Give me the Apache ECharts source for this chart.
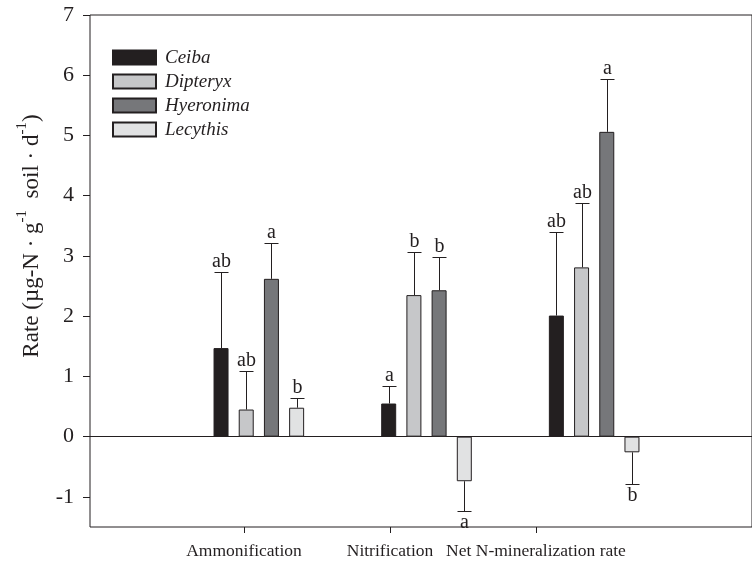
<!DOCTYPE html>
<html>
<head>
<meta charset="utf-8">
<script src="https://cdn.jsdelivr.net/npm/echarts@6/dist/echarts.min.js"></script>
<style>html,body{margin:0;padding:0;background:#fff}#c{width:752px;height:567px}</style>
</head>
<body>
<div id="c"></div>
<script>
const categories = ['Ammonification', 'Nitrification', 'Net N-mineralization rate'];
const species = ['Ceiba', 'Dipteryx', 'Hyeronima', 'Lecythis'];
const colors = ['#231f20', '#c6c7c9', '#76777a', '#e1e2e3'];

const ceibaMean = [1.47, 0.55, 2.01];
const ceibaErrEnd = [2.73, 0.84, 3.40];
const ceibaLetters = ['ab', 'a', 'ab'];

const dipteryxMean = [0.45, 2.35, 2.81];
const dipteryxErrEnd = [1.09, 3.07, 3.88];
const dipteryxLetters = ['ab', 'b', 'ab'];

const hyeronimaMean = [2.62, 2.43, 5.06];
const hyeronimaErrEnd = [3.21, 2.99, 5.94];
const hyeronimaLetters = ['a', 'b', 'a'];

const lecythisMean = [0.48, -0.74, -0.26];
const lecythisErrEnd = [0.64, -1.23, -0.79];
const lecythisLetters = ['b', 'a', 'b'];

const yTicks = [-1, 0, 1, 2, 3, 4, 5, 6, 7];

const means = [ceibaMean, dipteryxMean, hyeronimaMean, lecythisMean];
const errEnds = [ceibaErrEnd, dipteryxErrEnd, hyeronimaErrEnd, lecythisErrEnd];
const letters = [ceibaLetters, dipteryxLetters, hyeronimaLetters, lecythisLetters];

const FONT = '"Liberation Serif", "Times New Roman", serif';
const INK = '#231f20';
const BAR_W = 15;
const BAR_GAP = 0.68;
const PITCH = BAR_W * (1 + BAR_GAP);

const chart = echarts.init(document.getElementById('c'), null, {renderer: 'canvas'});

const series = [];
species.forEach((name, i) => {
  series.push({
    name: name,
    type: 'bar',
    xAxisIndex: 1,
    yAxisIndex: 1,
    barWidth: BAR_W,
    barGap: (BAR_GAP * 100) + '%',
    data: means[i],
    itemStyle: {color: colors[i], borderColor: INK, borderWidth: 1},
    emphasis: {disabled: true},
    z: 2
  });
});
species.forEach((name, i) => {
  const offset = (i - 1.5) * PITCH;
  series.push({
    type: 'custom',
    xAxisIndex: 1,
    yAxisIndex: 1,
    z: 3,
    silent: true,
    data: means[i].map((m, k) => [k, m, errEnds[i][k]]),
    renderItem: function (params, api) {
      const k = params.dataIndex;
      const a = api.coord([api.value(0), api.value(1)]);
      const b = api.coord([api.value(0), api.value(2)]);
      const x = Math.round(a[0] + offset) + 0.5;
      const y1 = a[1];
      const y2 = Math.round(b[1]) + 0.5;
      const neg = api.value(2) < 0;
      return {
        type: 'group',
        children: [
          {type: 'line', shape: {x1: x, y1: y1, x2: x, y2: y2}, style: {stroke: INK, lineWidth: 1}},
          {type: 'line', shape: {x1: x - 7, y1: y2, x2: x + 7, y2: y2}, style: {stroke: INK, lineWidth: 1}},
          {type: 'text', x: x, y: neg ? y2 + 1 : y2 - 1,
           style: {text: letters[i][k], fill: INK, font: '20px ' + FONT,
                   align: 'center', verticalAlign: neg ? 'top' : 'bottom'}}
        ]
      };
    }
  });
});
// empty series so grid 0 and 2 have their axis pair in use
series.push({type: 'line', xAxisIndex: 0, yAxisIndex: 0, data: [], silent: true});
series.push({type: 'line', xAxisIndex: 2, yAxisIndex: 2, data: [], silent: true});

const option = {
  backgroundColor: '#ffffff',
  animation: false,
  legend: {
    orient: 'vertical',
    left: 112,
    top: 48,
    padding: 0,
    itemWidth: 43,
    itemHeight: 14,
    itemGap: 5,
    icon: 'rect',
    data: species,
    textStyle: {fontFamily: FONT, fontStyle: 'italic', fontSize: 19, color: INK, lineHeight: 19, padding: [0, 0, 0, 4]},
    selectedMode: false
  },
  grid: [
    {left: 90, top: 15, width: 680, height: 512, show: true, borderColor: INK, borderWidth: 1, backgroundColor: 'transparent', containLabel: false},
    {left: 175, top: 15, width: 503, height: 512, containLabel: false},
    {left: 171, top: 15, width: 438, height: 512, containLabel: false}
  ],
  xAxis: [
    {gridIndex: 0, type: 'value', min: 0, max: 1,
     axisLine: {show: true, onZero: true, lineStyle: {color: INK, width: 1}},
     axisTick: {show: false}, axisLabel: {show: false}, splitLine: {show: false}},
    {gridIndex: 1, type: 'category', data: categories, show: false},
    {gridIndex: 2, type: 'category', data: categories, position: 'bottom',
     axisLine: {show: false, onZero: false},
     axisTick: {show: true, alignWithLabel: true, length: 6, lineStyle: {color: INK, width: 1}},
     axisLabel: {interval: 0, margin: 15, fontFamily: FONT, fontSize: 17.5, color: INK},
     splitLine: {show: false}}
  ],
  yAxis: [
    {gridIndex: 0, type: 'value', min: -1.5, max: 7,
     axisLine: {show: false},
     axisTick: {show: true, inside: false, length: 7, customValues: yTicks, lineStyle: {color: INK, width: 1}},
     axisLabel: {customValues: yTicks, margin: 16, fontFamily: FONT, fontSize: 22, color: INK},
     splitLine: {show: false}},
    {gridIndex: 1, type: 'value', min: -1.5, max: 7, show: false},
    {gridIndex: 2, type: 'value', min: -1.5, max: 7, show: false}
  ],
  graphic: [{
    type: 'text',
    x: 29,
    y: 236,
    rotation: Math.PI / 2,
    style: {
      text: '{n|Rate (µg-N · g}{s|-1}{n|  soil · d}{s|-1}{n|)}',
      align: 'center',
      verticalAlign: 'middle',
      rich: {
        n: {fontFamily: FONT, fontSize: 23, fill: INK, lineHeight: 28, verticalAlign: 'bottom'},
        s: {fontFamily: FONT, fontSize: 15, fill: INK, lineHeight: 28, verticalAlign: 'top', padding: [0, 0, 8, 0]}
      }
    }
  }],
  series: series
};
chart.setOption(option);
</script>
</body>
</html>
